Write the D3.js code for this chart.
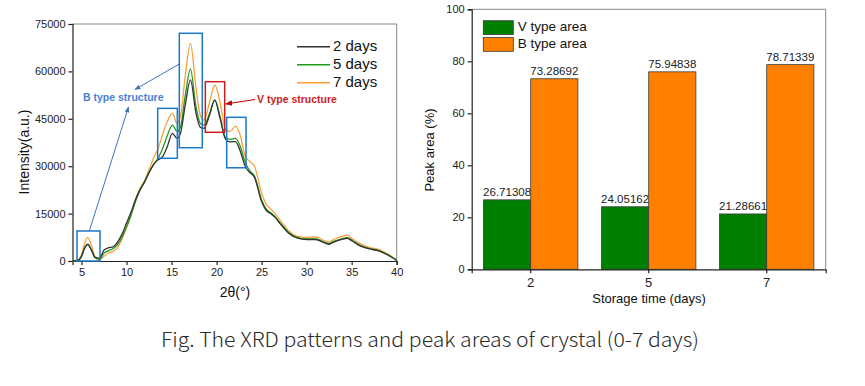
<!DOCTYPE html>
<html><head><meta charset="utf-8">
<script src="https://cdn.jsdelivr.net/npm/d3@7"></script>
<style>
html,body{margin:0;padding:0;background:#fff;}
svg{display:block;}
text{font-family:"Liberation Sans",Arial,sans-serif;}
.cap{font-family:"Noto Sans CJK SC Light","Noto Sans CJK SC DemiLight","Open Sans",sans-serif;font-weight:300;}
</style></head>
<body>
<svg id="c" width="865" height="386"></svg>
<script>
// ---------- XRD data ----------
const twoTheta = [4,4.5,5,5.3,5.7,6.1,6.5,7,7.5,8,8.5,9,9.5,10,10.5,11,11.5,12,12.5,13,13.5,14,14.5,15.1,15.6,16,16.5,17.1,17.7,18.2,18.6,19.2,19.8,20.4,21,21.5,22.1,22.6,23.2,23.7,24.2,25,25.5,26,26.5,27,28,29,30,31,32,32.5,33,34,34.5,35,36,37,38,39,40];
const day2 = [0,100,1500,3800,5300,3500,1200,900,3500,4200,4500,6000,8500,12000,15500,19500,22500,25000,28000,30500,32000,33000,36000,40400,38800,40500,49000,57300,47000,42300,42000,46000,50900,45000,38500,37700,37800,35000,29800,28000,26500,18800,16000,15000,13800,12000,8800,7200,6800,6800,5700,5300,6000,6900,7200,6400,4700,3800,3200,1900,200];
const day5 = [0,100,1400,3700,5200,3400,1000,500,2500,3300,3900,5200,7500,10800,14500,18800,22500,25000,28000,30500,32500,35500,39500,43000,41000,42500,52000,60700,49000,43500,43000,46500,51000,45500,39000,38500,38800,36500,31000,28500,27000,19300,16500,15300,14000,12300,9000,7400,7000,7000,5900,5500,6200,7100,7400,6600,4900,3900,3300,2000,200];
const day7 = [0,100,2000,5200,7500,5000,1200,300,1500,2600,3000,4200,7000,10500,14500,19500,23000,25500,29000,32500,35500,40000,44000,46700,43500,46000,58000,68900,55000,46000,44600,50000,55700,50000,41500,41000,42700,40000,33000,31500,30000,21500,18000,16500,15000,13200,9600,7800,7500,7600,6400,6000,6800,7900,8200,7200,5400,4200,3700,2200,300];
const seriesNames = ["2 days","5 days","7 days"];
const xTicks = [5,10,15,20,25,30,35,40];
const yTicks = [0,15000,30000,45000,60000,75000];
// annotation boxes [x0,x1,y0,y1] in data units
const bBoxes = [[4.5,7.05,0,9500],[13.46,15.64,32500,48300],[15.86,18.41,35850,72060],[21.12,23.27,29500,45470]];
const vBox = [18.75,20.9,40730,56740];

// ---------- Bar data ----------
const days = ["2","5","7"];
const vArea = [26.71308,24.05162,21.28661];
const bArea = [73.28692,75.94838,78.71339];
const barSeries = ["V type area","B type area"];
const barTicks = [0,20,40,60,80,100];

const svg = d3.select("#c");
const defs = svg.append("defs");
function marker(id,color){
  defs.append("marker").attr("id",id).attr("viewBox","0 0 10 10").attr("refX",9).attr("refY",5)
    .attr("markerWidth",6).attr("markerHeight",6).attr("orient","auto")
    .append("path").attr("d","M0,1 L10,5 L0,9 Z").attr("fill",color);
}
marker("arB","#4472c4"); marker("arR","#c00000");

// ===== Left chart =====
const L = {l:72.5,r:396.7,t:24,b:261};
const x = d3.scaleLinear().domain([4,40]).range([L.l,L.r]);
const y = d3.scaleLinear().domain([0,75000]).range([L.b,L.t]);
const gl = svg.append("g");
gl.append("line").attr("x1",L.l).attr("x2",L.r).attr("y1",L.t).attr("y2",L.t).attr("stroke","#888").attr("stroke-width",1);
gl.append("line").attr("x1",L.r).attr("x2",L.r).attr("y1",L.t).attr("y2",L.b).attr("stroke","#888").attr("stroke-width",1);
const xa = gl.append("g").attr("transform",`translate(0,${L.b})`).call(d3.axisBottom(x).tickValues(xTicks).tickSize(4).tickPadding(3));
const ya = gl.append("g").attr("transform",`translate(${L.l},0)`).call(d3.axisLeft(y).tickValues(yTicks).tickSize(4).tickPadding(3).tickFormat(d3.format("d")));
[xa,ya].forEach(a=>{a.selectAll("path,line").attr("stroke","#222").attr("stroke-width",1.2);
  a.selectAll("text").attr("font-size",11).attr("fill","#222").attr("font-family","Liberation Sans,Arial,sans-serif");});
gl.append("text").attr("transform",`translate(25,152) rotate(-90)`).attr("text-anchor","middle")
  .attr("dominant-baseline","middle").attr("font-size",14).attr("fill","#111").text("Intensity(a.u.)");
gl.append("text").attr("x",235).attr("y",293).attr("text-anchor","middle").attr("dominant-baseline","middle")
  .attr("font-size",14).attr("fill","#111").text("2θ(°)");

const colors = ["#333333","#1e9a1e","#f7a03c"];
const line = d3.line().x((d,i)=>x(twoTheta[i])).y(d=>y(d)).curve(d3.curveMonotoneX);
const allSeries = [day2,day5,day7];
[2,1,0].forEach(idx=>{
  gl.append("path").attr("d",line(allSeries[idx])).attr("fill","none").attr("stroke",colors[idx]).attr("stroke-width",1.3);
});
bBoxes.forEach(b=>{
  gl.append("rect").attr("x",x(b[0])).attr("y",y(b[3])).attr("width",x(b[1])-x(b[0])).attr("height",y(b[2])-y(b[3]))
    .attr("fill","none").attr("stroke","#1a78c8").attr("stroke-width",1.5);
});
gl.append("rect").attr("x",x(vBox[0])).attr("y",y(vBox[3])).attr("width",x(vBox[1])-x(vBox[0])).attr("height",y(vBox[2])-y(vBox[3]))
  .attr("fill","none").attr("stroke","#d01c1c").attr("stroke-width",1.5);
gl.append("text").attr("x",83).attr("y",98).attr("dominant-baseline","middle").attr("font-size",10.5).attr("font-weight","bold")
  .attr("fill","#4a7fd6").attr("font-family","Open Sans,sans-serif").text("B type structure");
gl.append("text").attr("x",257).attr("y",100).attr("dominant-baseline","middle").attr("font-size",10.5).attr("font-weight","bold")
  .attr("fill","#d01c1c").attr("font-family","Open Sans,sans-serif").text("V type structure");
gl.append("line").attr("x1",x(15.86)).attr("y1",64).attr("x2",135).attr("y2",89.5).attr("stroke","#4472c4").attr("stroke-width",1).attr("marker-end","url(#arB)");
gl.append("line").attr("x1",89.3).attr("y1",y(9500)).attr("x2",128.5).attr("y2",107).attr("stroke","#4472c4").attr("stroke-width",1).attr("marker-end","url(#arB)");
gl.append("line").attr("x1",255).attr("y1",99.5).attr("x2",x(20.9)+1).attr("y2",104).attr("stroke","#c00000").attr("stroke-width",1.2).attr("marker-end","url(#arR)");
seriesNames.forEach((n,i)=>{
  const yy = 46.7 + i*18;
  gl.append("line").attr("x1",297).attr("x2",330).attr("y1",yy).attr("y2",yy).attr("stroke",colors[i]).attr("stroke-width",1.5);
  gl.append("text").attr("x",333).attr("y",yy).attr("dominant-baseline","middle").attr("font-size",15).attr("fill","#111").text(n);
});

// ===== Right chart =====
const R = {l:471.7,r:825.7,t:9.3,b:269.3};
const x0 = d3.scaleBand().domain(days).range([R.l,R.r]).paddingInner(0.2).paddingOuter(0.1);
const x1 = d3.scaleBand().domain(barSeries).range([0,x0.bandwidth()]);
const yr = d3.scaleLinear().domain([0,100]).range([R.b,R.t]);
const gr = svg.append("g");
gr.append("line").attr("x1",R.l).attr("x2",R.r).attr("y1",R.t).attr("y2",R.t).attr("stroke","#888");
gr.append("line").attr("x1",R.r).attr("x2",R.r).attr("y1",R.t).attr("y2",R.b).attr("stroke","#888");
const barColors = ["#008000","#ff8000"];
const vals = [vArea,bArea];
days.forEach((d,i)=>{
  barSeries.forEach((s,j)=>{
    const v = vals[j][i];
    const bx = x0(d)+x1(s);
    gr.append("rect").attr("x",bx).attr("y",yr(v)).attr("width",x1.bandwidth()).attr("height",yr(0)-yr(v))
      .attr("fill",barColors[j]).attr("stroke","#3a3a3a").attr("stroke-width",0.8);
    gr.append("text").attr("x",bx+x1.bandwidth()/2).attr("y",yr(v)-4).attr("text-anchor","middle")
      .attr("font-size",11.5).attr("fill","#222").text(v.toFixed(5));
  });
});
const xra = gr.append("g").attr("transform",`translate(0,${R.b})`).call(d3.axisBottom(x0).tickSize(4).tickPadding(4));
const yra = gr.append("g").attr("transform",`translate(${R.l},0)`).call(d3.axisLeft(yr).tickValues(barTicks).tickSize(4).tickPadding(3));
[xra,yra].forEach(a=>{a.selectAll("path,line").attr("stroke","#222").attr("stroke-width",1.2);
  a.selectAll("text").attr("fill","#222").attr("font-family","Liberation Sans,Arial,sans-serif");});
yra.selectAll("text").attr("font-size",11);
xra.selectAll("text").attr("font-size",13);
gr.append("text").attr("transform",`translate(431,150) rotate(-90)`).attr("text-anchor","middle")
  .attr("dominant-baseline","middle").attr("font-size",13).attr("fill","#111").text("Peak area (%)");
gr.append("text").attr("x",649).attr("y",300).attr("text-anchor","middle").attr("dominant-baseline","middle")
  .attr("font-size",13).attr("fill","#111").text("Storage time (days)");
barSeries.forEach((s,j)=>{
  const yy = 20.7 + j*16.8;
  gr.append("rect").attr("x",483.3).attr("y",yy).attr("width",30).attr("height",13.8)
    .attr("fill",barColors[j]).attr("stroke","#3a3a3a").attr("stroke-width",0.8);
  gr.append("text").attr("x",517.7).attr("y",yy+7).attr("dominant-baseline","middle").attr("font-size",13.5).attr("fill","#111").text(s);
});

// caption
svg.append("text").attr("class","cap").attr("x",161).attr("y",347).attr("font-size",20).attr("fill","#2a2a2a")
  .attr("textLength",538).attr("lengthAdjust","spacingAndGlyphs")
  .text("Fig. The XRD patterns and peak areas of crystal (0-7 days)");
</script>
</body></html>
